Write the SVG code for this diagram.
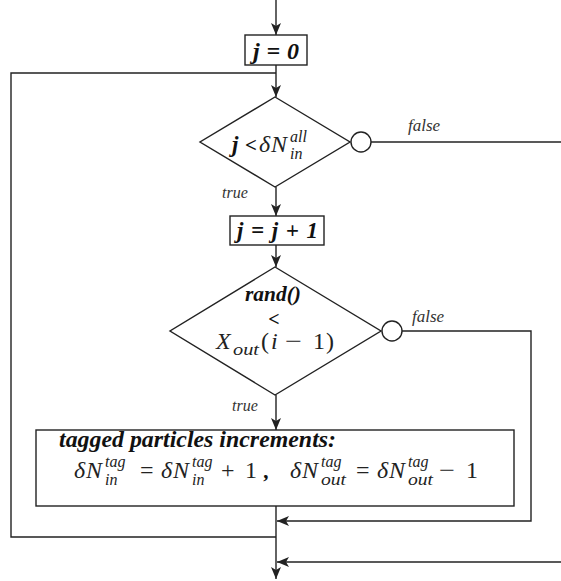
<svg xmlns="http://www.w3.org/2000/svg" width="561" height="581" viewBox="0 0 561 581">
  <style>
    .ln { fill: none; stroke: #222; stroke-width: 1.4; }
    .box { fill: #fff; stroke: #222; stroke-width: 1.4; }
    .bi { font-family: 'Liberation Serif', 'DejaVu Serif', 'Times New Roman', serif; font-style: italic; font-weight: bold; fill: #111; }
    .it { font-family: 'Liberation Serif', 'DejaVu Serif', 'Times New Roman', serif; font-style: italic; fill: #222; }
    .rm { font-family: 'Liberation Serif', 'DejaVu Serif', 'Times New Roman', serif; fill: #222; }
    .lbl { font-family: 'Liberation Serif', 'DejaVu Serif', 'Times New Roman', serif; font-style: italic; fill: #333; }
  </style>
  <defs>
    <marker id="arr" viewBox="0 0 12 10" refX="12" refY="5" markerWidth="12" markerHeight="10" markerUnits="userSpaceOnUse" orient="auto">
      <path d="M0,0 L12,5 L0,10 L3,5 z" fill="#222"/>
    </marker>
  </defs>

  <!-- connectors -->
  <g id="connectors">
    <line class="ln" x1="276" y1="0" x2="276" y2="35" marker-end="url(#arr)"/>
    <line class="ln" x1="276" y1="65" x2="276" y2="97" marker-end="url(#arr)"/>
    <polyline class="ln" points="276,73 11,73 11,537 276,537"/>
    <line class="ln" x1="371" y1="142" x2="561" y2="142"/>
    <line class="ln" x1="276" y1="187" x2="276" y2="216" marker-end="url(#arr)"/>
    <line class="ln" x1="276" y1="245" x2="276" y2="267" marker-end="url(#arr)"/>
    <polyline class="ln" points="402,331 531,331 531,521 277,521" marker-end="url(#arr)"/>
    <line class="ln" x1="276" y1="395" x2="276" y2="430" marker-end="url(#arr)"/>
    <line class="ln" x1="276" y1="506" x2="276" y2="579" marker-end="url(#arr)"/>
    <line class="ln" x1="561" y1="562" x2="277" y2="562" marker-end="url(#arr)"/>
    <text class="lbl" x="408" y="131" font-size="17">false</text>
    <text class="lbl" x="222" y="198" font-size="16">true</text>
    <text class="lbl" x="412" y="322" font-size="17">false</text>
    <text class="lbl" x="232" y="411" font-size="16">true</text>
  </g>

  <!-- j = 0 -->
  <g id="init">
    <rect class="box" x="245" y="35" width="62" height="30"/>
    <text class="bi" x="253" y="59" font-size="24" textLength="46" lengthAdjust="spacing">j = 0</text>
  </g>

  <!-- loop test -->
  <g id="loop-test">
    <polygon class="box" points="275,97 350,142 275,187 200,142"/>
    <circle class="box" cx="361" cy="142" r="10"/>
    <text class="bi" x="232" y="152" font-size="23">j</text>
    <text class="bi" x="245" y="152" font-size="21">&lt;</text>
    <text class="it" x="259" y="152" font-size="24">δ</text>
    <text class="it" x="271" y="152" font-size="24">N</text>
    <text class="it" x="290" y="142" font-size="16">all</text>
    <text class="it" x="290" y="159" font-size="16">in</text>
  </g>

  <!-- j = j + 1 -->
  <g id="increment">
    <rect class="box" x="230" y="216" width="94" height="29"/>
    <text class="bi" x="237" y="238" font-size="23" textLength="81" lengthAdjust="spacing">j = j + 1</text>
  </g>

  <!-- random test -->
  <g id="random-test">
    <polygon class="box" points="275,267 381,331 275,395 170,331"/>
    <circle class="box" cx="392" cy="331" r="10"/>
    <text class="bi" x="245" y="301" font-size="22" textLength="56" lengthAdjust="spacingAndGlyphs">rand()</text>
    <text class="bi" x="274" y="326" font-size="20" text-anchor="middle">&lt;</text>
    <text class="it" x="216" y="349" font-size="24">X</text>
    <text class="it" x="233" y="355" font-size="17" textLength="26" lengthAdjust="spacingAndGlyphs">out</text>
    <text class="rm" x="261" y="349" font-size="24">(</text>
    <text class="it" x="271" y="349" font-size="24">i</text>
    <text class="rm" x="285" y="349" font-size="24" textLength="17" lengthAdjust="spacingAndGlyphs">−</text>
    <text class="rm" x="313" y="349" font-size="24">1</text>
    <text class="rm" x="326" y="349" font-size="24">)</text>
  </g>

  <!-- tagged particles increments -->
  <g id="tagged">
    <rect class="box" x="36" y="430" width="478" height="76"/>
    <text class="bi" x="59" y="447" font-size="24" textLength="277" lengthAdjust="spacingAndGlyphs">tagged particles increments:</text>
    <text class="it" x="74" y="478" font-size="24">δ</text>
    <text class="it" x="86" y="478" font-size="24">N</text>
    <text class="it" x="105" y="467" font-size="16">tag</text>
    <text class="it" x="105" y="485" font-size="16">in</text>
    <text class="rm" x="140" y="478" font-size="24">=</text>
    <text class="it" x="161" y="478" font-size="24">δ</text>
    <text class="it" x="173" y="478" font-size="24">N</text>
    <text class="it" x="192" y="467" font-size="16">tag</text>
    <text class="it" x="192" y="485" font-size="16">in</text>
    <text class="rm" x="221" y="478" font-size="24">+</text>
    <text class="rm" x="245" y="478" font-size="24">1</text>
    <text class="bi" x="264" y="478" font-size="22">,</text>
    <text class="it" x="290" y="478" font-size="24">δ</text>
    <text class="it" x="302" y="478" font-size="24">N</text>
    <text class="it" x="321" y="467" font-size="16">tag</text>
    <text class="it" x="321" y="485" font-size="16" textLength="25" lengthAdjust="spacingAndGlyphs">out</text>
    <text class="rm" x="356" y="478" font-size="24">=</text>
    <text class="it" x="377" y="478" font-size="24">δ</text>
    <text class="it" x="389" y="478" font-size="24">N</text>
    <text class="it" x="408" y="467" font-size="16">tag</text>
    <text class="it" x="408" y="485" font-size="16" textLength="25" lengthAdjust="spacingAndGlyphs">out</text>
    <text class="rm" x="439" y="478" font-size="24" textLength="16" lengthAdjust="spacingAndGlyphs">−</text>
    <text class="rm" x="466" y="478" font-size="24">1</text>
  </g>
</svg>
